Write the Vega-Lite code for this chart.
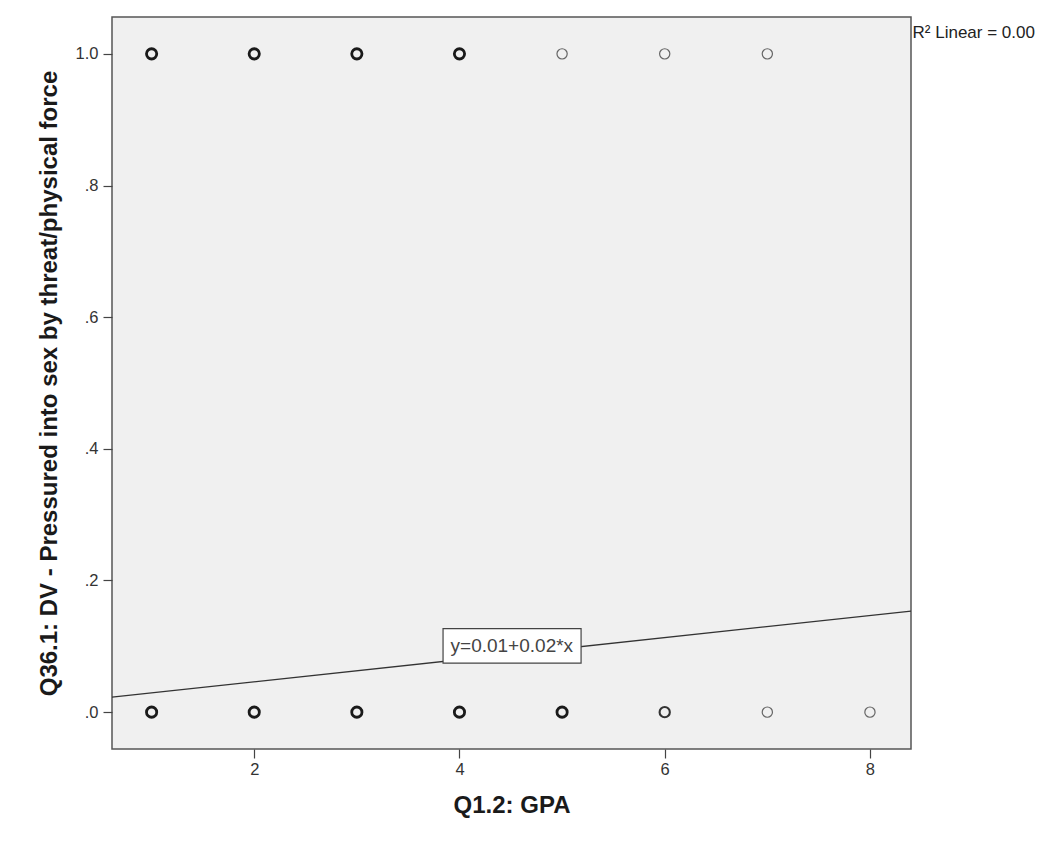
{
  "$schema": "https://vega.github.io/schema/vega-lite/v6.json",
  "width": 799,
  "height": 732,
  "autosize": {"type": "none"},
  "padding": {"left": 112, "top": 17, "right": 133, "bottom": 93},
  "background": "white",
  "config": {
    "font": "Liberation Sans",
    "view": {"fill": "#f0f0f0", "stroke": "#555555", "strokeWidth": 1.5},
    "axis": {
      "grid": false,
      "domain": false,
      "tickColor": "#444444",
      "tickSize": 9,
      "tickWidth": 1.2,
      "labelColor": "#333333",
      "labelFontSize": 16.5,
      "labelFont": "Liberation Sans",
      "titleFont": "Liberation Sans",
      "titleFontSize": 24,
      "titleFontWeight": "bold",
      "titleColor": "#1a1a1a"
    }
  },
  "datasets": {
    "points": [
      {"gpa": 1, "dv": 0, "count": 20},
      {"gpa": 2, "dv": 0, "count": 30},
      {"gpa": 3, "dv": 0, "count": 25},
      {"gpa": 4, "dv": 0, "count": 30},
      {"gpa": 5, "dv": 0, "count": 10},
      {"gpa": 6, "dv": 0, "count": 4},
      {"gpa": 7, "dv": 0, "count": 1},
      {"gpa": 8, "dv": 0, "count": 1},
      {"gpa": 1, "dv": 1, "count": 5},
      {"gpa": 2, "dv": 1, "count": 6},
      {"gpa": 3, "dv": 1, "count": 5},
      {"gpa": 4, "dv": 1, "count": 6},
      {"gpa": 5, "dv": 1, "count": 1},
      {"gpa": 6, "dv": 1, "count": 1},
      {"gpa": 7, "dv": 1, "count": 1}
    ],
    "fit": [
      {"gpa": 0.614, "dv": 0.0228},
      {"gpa": 8.40, "dv": 0.1535}
    ],
    "eqbox": [
      {"x1": 3.84, "x2": 5.185, "y1": 0.0745, "y2": 0.127, "xc": 4.51, "yc": 0.1, "label": "y=0.01+0.02*x"}
    ],
    "r2": [
      {"gpa": 8.415, "dv": 1.031, "label": "R² Linear = 0.00"}
    ]
  },
  "layer": [
    {
      "data": {"name": "points"},
      "mark": {"type": "point", "shape": "circle", "filled": false, "size": 105},
      "encoding": {
        "x": {
          "field": "gpa", "type": "quantitative",
          "scale": {"domain": [0.614, 8.40], "nice": false, "zero": false},
          "axis": {"values": [2, 4, 6, 8], "format": "d", "title": "Q1.2: GPA", "titlePadding": 16, "labelPadding": 3}
        },
        "y": {
          "field": "dv", "type": "quantitative",
          "scale": {"domain": [-0.056, 1.056], "nice": false, "zero": false},
          "axis": {
            "values": [0, 0.2, 0.4, 0.6, 0.8, 1.0],
            "labelExpr": "datum.value < 1 ? slice(format(datum.value, '.1f'), 1) : format(datum.value, '.1f')",
            "title": "Q36.1: DV - Pressured into sex by threat/physical force",
            "titlePadding": 14,
            "labelPadding": 5
          }
        },
        "strokeWidth": {
          "field": "count", "type": "quantitative",
          "scale": {"type": "threshold", "domain": [2, 5], "range": [1.2, 2.1, 2.8]},
          "legend": null
        },
        "color": {
          "field": "count", "type": "quantitative",
          "scale": {"type": "threshold", "domain": [2, 5], "range": ["#666666", "#333333", "#1a1a1a"]},
          "legend": null
        },
        "opacity": {"value": 1}
      }
    },
    {
      "data": {"name": "fit"},
      "mark": {"type": "line", "color": "#333333", "strokeWidth": 1.3},
      "encoding": {
        "x": {"field": "gpa", "type": "quantitative"},
        "y": {"field": "dv", "type": "quantitative"}
      }
    },
    {
      "data": {"name": "eqbox"},
      "mark": {"type": "rect", "fill": "white", "stroke": "#444444", "strokeWidth": 1.2},
      "encoding": {
        "x": {"field": "x1", "type": "quantitative"},
        "x2": {"field": "x2"},
        "y": {"field": "y1", "type": "quantitative"},
        "y2": {"field": "y2"}
      }
    },
    {
      "data": {"name": "eqbox"},
      "mark": {"type": "text", "fontSize": 19, "color": "#444444", "font": "Liberation Sans", "align": "center", "baseline": "middle"},
      "encoding": {
        "x": {"field": "xc", "type": "quantitative"},
        "y": {"field": "yc", "type": "quantitative"},
        "text": {"field": "label"}
      }
    },
    {
      "data": {"name": "r2"},
      "mark": {"type": "text", "fontSize": 17, "color": "#222222", "font": "Liberation Sans", "align": "left", "baseline": "middle", "clip": false},
      "encoding": {
        "x": {"field": "gpa", "type": "quantitative"},
        "y": {"field": "dv", "type": "quantitative"},
        "text": {"field": "label"}
      }
    }
  ]
}
